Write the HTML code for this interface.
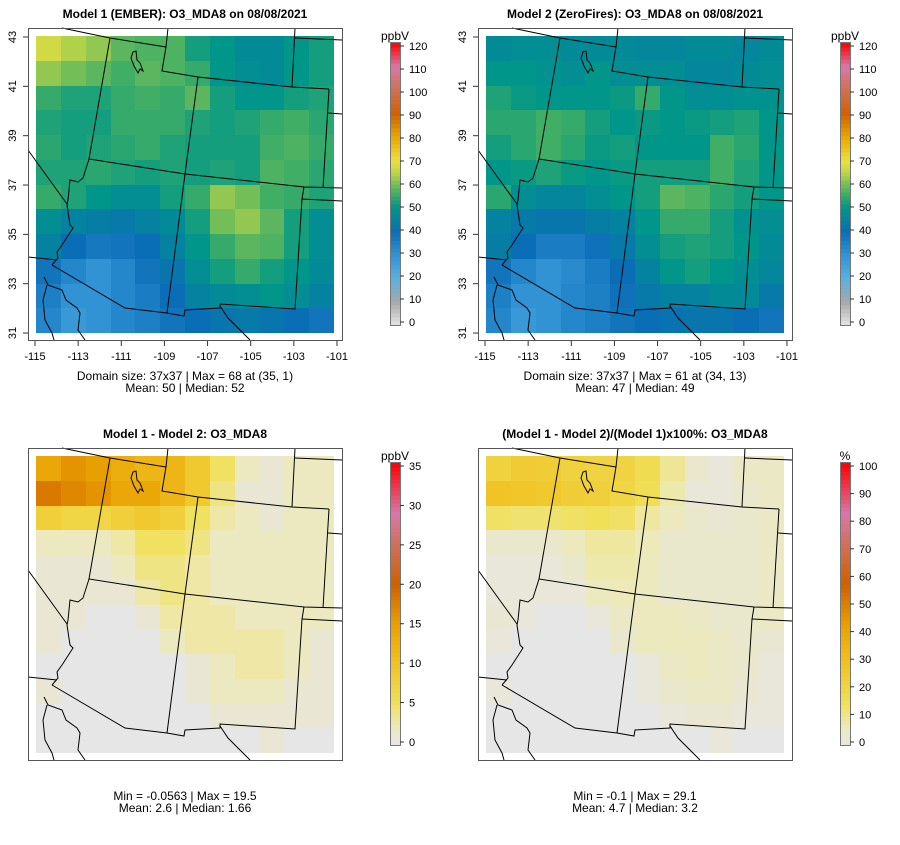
<!DOCTYPE html>
<html><head><meta charset="utf-8"><style>
body{margin:0;background:#fff;}
svg text{font-family:"Liberation Sans",sans-serif;}
</style></head><body>
<svg id="root" width="900" height="840" xmlns="http://www.w3.org/2000/svg"></svg>
<script>
// Data (12x12 coarse grids, rows north->south, cols west->east)
const model1 = [
[67,64,62,58,57,57,52,50,47,47,50,52],
[62,60,58,56,58,57,55,50,48,47,50,52],
[55,53,53,55,56,55,58,52,50,50,52,53],
[53,52,52,55,55,55,53,52,53,55,56,54],
[54,52,53,54,55,53,52,52,52,56,57,55],
[53,53,54,53,52,53,52,53,52,57,56,54],
[55,53,50,48,48,52,55,62,60,56,55,53],
[48,45,44,43,45,47,52,60,62,58,52,48],
[45,40,37,38,40,45,50,55,58,57,52,48],
[38,33,30,33,38,42,48,52,55,52,50,47],
[35,30,30,33,36,40,45,47,48,50,48,45],
[33,28,30,33,35,38,40,42,43,42,40,38]];
const model2 = [
[47,48,48,47,47,47,46,46,47,47,46,47],
[50,50,49,48,50,48,48,48,46,46,47,48],
[53,51,50,50,50,51,55,50,48,48,49,49],
[54,54,56,55,52,50,51,50,51,52,53,50],
[52,54,56,54,51,52,50,50,50,56,54,50],
[50,51,53,51,50,51,52,52,52,56,53,50],
[54,48,46,46,48,50,52,58,57,54,52,50],
[45,43,42,42,44,45,50,55,55,52,49,48],
[44,40,36,36,39,43,48,52,53,52,50,47],
[38,33,30,32,36,40,45,50,52,50,48,46],
[35,30,30,33,35,39,43,45,45,47,47,43],
[33,28,30,33,35,38,40,41,42,42,40,38]];
const diffVals = [
[14,16,15,13,12,12,9,5,2,1,2,2],
[18,17,16,14,14,12,9,4,1,1,2,2],
[8,7,7,8,9,8,5,3,2,1,2,2],
[2,2,2,3,5,5,4,2,2,2,2,2],
[1,1,1,2,4,4,3,2,2,2,2,2],
[1,1,1,1,3,4,3,2,2,2,2,2],
[1,1,0,0,1,3,3,3,2,2,2,2],
[1,0,0,0,0,2,3,3,3,3,2,1],
[0,0,0,0,0,0,1,2,3,3,2,1],
[1,0,0,0,0,0,1,2,2,2,1,1],
[0,0,0,0,0,0,0,1,1,1,1,1],
[0,0,0,0,0,0,0,0,0,1,0,0]];
const pctVals = [
[22,25,24,22,21,21,17,10,4,2,5,5],
[28,27,26,24,23,20,16,8,2,2,4,5],
[14,13,13,14,15,14,9,6,4,3,4,5],
[4,4,4,6,9,9,7,4,4,4,4,5],
[2,2,2,4,8,8,6,4,4,4,4,5],
[2,2,2,2,6,7,6,4,4,4,4,5],
[3,2,0,0,2,5,6,6,5,4,4,5],
[2,0,0,0,0,4,6,6,6,5,4,3],
[0,0,0,0,0,0,2,5,6,5,4,2],
[2,0,0,0,0,0,2,4,5,5,3,2],
[0,0,0,0,0,0,0,2,3,3,2,2],
[0,0,0,0,0,0,0,0,0,2,0,0]];
const lonTicks = [-115,-113,-111,-109,-107,-105,-103,-101];
const latTicks = [43,41,39,37,35,33,31];
const o3Ticks = [0,10,20,30,40,50,60,70,80,90,100,110,120];
const diffTicks = [0,5,10,15,20,25,30,35];
const pctTicks = [0,10,20,30,40,50,60,70,80,90,100];

const NS="http://www.w3.org/2000/svg";
const root=document.getElementById('root');
function mk(tag,attrs,parent){const e=document.createElementNS(NS,tag);for(const k in attrs)e.setAttribute(k,attrs[k]);(parent||root).appendChild(e);return e;}
function hex(c){return [parseInt(c.slice(1,3),16),parseInt(c.slice(3,5),16),parseInt(c.slice(5,7),16)];}
function rampColor(stops,t){t=Math.max(0,Math.min(1,t));for(let i=1;i<stops.length;i++){if(t<=stops[i][0]){const a=stops[i-1],b=stops[i];const f=(t-a[0])/(b[0]-a[0]||1);const ca=hex(a[1]),cb=hex(b[1]);return 'rgb('+ca.map((v,j)=>Math.round(v+(cb[j]-v)*f)).join(',')+')';}}return stops[stops.length-1][1];}
const o3Stops=[[0,'#e4e4e4'],[0.083,'#a8a8a8'],[0.167,'#58b0e0'],[0.25,'#3192d4'],[0.333,'#0a6eb6'],[0.417,'#00968a'],[0.458,'#34aa6a'],[0.5,'#74be58'],[0.54,'#bcd648'],[0.583,'#ece040'],[0.667,'#e8a800'],[0.75,'#d06000'],[0.833,'#d07050'],[0.917,'#d878a8'],[1,'#ff0000']];
const difStops=[[0,'#e6e6e6'],[0.07,'#ede9b8'],[0.15,'#f0e058'],[0.3,'#f0c020'],[0.43,'#e8a000'],[0.57,'#d06000'],[0.72,'#d07060'],[0.82,'#d878a8'],[1,'#ff0000']];

const geo=[
"M62,28 L110,38 L166,47","M168,28 L166,47 L162,71 L198,77 L292,87 L329,89","M295,28 L292,87","M295,38 L342,40","M329,89 L323,188","M328,113 L342,114",
"M185,174 L304,187 L342,188","M302,199 L342,201","M304,187 L302,199 L295,309 L220,304 L220,308 L185,310 L184,316 L167,313 L125,308 L52,265",
"M198,77 L185,174 L167,313","M110,38 L89,159 L185,174",
"M89,159 L83,178 L78,182 L70,180 L68,200 L67,205 L70,225 L73,228 L62,245 L57,252 L58,258 L52,265",
"M28,150 L67,204","M28,257 L57,260",
"M44,277 L48,285 L62,290 L66,300 L77,308 L80,313 L78,330 L85,340","M47,285 L43,300 L45,320 L52,333 L54,340",
"M220,306 L228,318 L240,330 L250,340",
"M133,52 L131,58 L134,66 L138,73 L140,69 L143,71 L140,63 L137,60 L136,51 Z"];

function panel(ox,oy,grid,stops,vmax,ticks,unit,title,foot1,foot2,axes,id){
  const g=mk('g',{transform:`translate(${ox},${oy})`});
  
  const t=mk('text',{x:185,y:18,'text-anchor':'middle','font-size':12,'font-weight':'bold'},g);t.textContent=title;
  
  const x0=36,y0=36,W=298,H=297,n=grid.length,m=grid[0].length;
  for(let r=0;r<n;r++)for(let c=0;c<m;c++){
    const x1=x0+Math.round(c*W/m),x2=x0+Math.round((c+1)*W/m),y1=y0+Math.round(r*H/n),y2=y0+Math.round((r+1)*H/n);
    const cell=mk('rect',{x:x1,y:y1,width:x2-x1,height:y2-y1,fill:rampColor(stops,grid[r][c]/vmax)},g);
    
  }
  const geoG=mk('g',{fill:'none',stroke:'#000','stroke-width':1},g);
  
  geo.forEach(d=>mk('path',{d},geoG));
  const box=mk('rect',{x:28.5,y:28.5,width:314,height:312,fill:'none',stroke:'#555'},g);
  
  mk('rect',{x:0,y:0,width:28,height:360,fill:'#fff'},g);mk('rect',{x:343,y:20,width:30,height:330,fill:'#fff'},g);mk('rect',{x:20,y:341,width:330,height:10,fill:'#fff'},g);
  if(axes){
    const xs=lon=>35+(lon+115)*21.57, ys=lat=>37+(43-lat)*24.67;
    lonTicks.forEach(l=>{mk('line',{x1:xs(l),x2:xs(l),y1:341,y2:346,stroke:'#333'},g);const tt=mk('text',{x:xs(l),y:360,'text-anchor':'middle','font-size':11},g);tt.textContent=l;});
    latTicks.forEach(l=>{mk('line',{x1:23,x2:28,y1:ys(l),y2:ys(l),stroke:'#333'},g);const tt=mk('text',{x:0,y:0,'text-anchor':'middle','font-size':11,transform:`translate(16,${ys(l)}) rotate(-90)`},g);tt.textContent=l;});
  }
  const fy=380;
  const f1=mk('text',{x:185,y:fy,'text-anchor':'middle','font-size':12},g);f1.textContent=foot1;
  
  const f2=mk('text',{x:185,y:fy+12,'text-anchor':'middle','font-size':12},g);f2.textContent=foot2;
  
  const cb=mk('g',{},g);
  const top=46,bot=322,cx=391;
  for(let i=0;i<70;i++){const v=(i+0.5)/70;mk('rect',{x:cx,y:bot+3-(i+1)*(bot-top+6)/70,width:9,height:(bot-top+6)/70+0.5,fill:rampColor(stops,v)},cb);}
  mk('rect',{x:cx-0.5,y:top-3.5,width:10,height:bot-top+7,fill:'none',stroke:'#777'},cb);
  ticks.forEach(v=>{const yy=bot-(v/vmax)*(bot-top);mk('line',{x1:cx+9,x2:cx+13,y1:yy,y2:yy,stroke:'#333'},cb);const tt=mk('text',{x:cx+18,y:yy+4,'font-size':11},cb);tt.textContent=v;});
  const ut=mk('text',{x:cx+4,y:top-6,'text-anchor':'middle','font-size':12},cb);ut.textContent=unit;
  
}
panel(0,0,model1,o3Stops,120,o3Ticks,'ppbV','Model 1 (EMBER): O3_MDA8 on 08/08/2021','Domain size: 37x37 | Max = 68 at (35, 1)','Mean: 50 |  Median: 52',true,'model1');
panel(450,0,model2,o3Stops,120,o3Ticks,'ppbV','Model 2 (ZeroFires): O3_MDA8 on 08/08/2021','Domain size: 37x37 | Max = 61 at (34, 13)','Mean: 47 |  Median: 49',true,'model2');
panel(0,420,diffVals,difStops,35,diffTicks,'ppbV','Model 1 - Model 2: O3_MDA8','Min = -0.0563 | Max = 19.5','Mean: 2.6 |  Median: 1.66',false,'diff');
panel(450,420,pctVals,difStops,100,pctTicks,'%','(Model 1 - Model 2)/(Model 1)x100%: O3_MDA8','Min = -0.1 | Max = 29.1','Mean: 4.7 |  Median: 3.2',false,'pct');
</script>
</body></html>
